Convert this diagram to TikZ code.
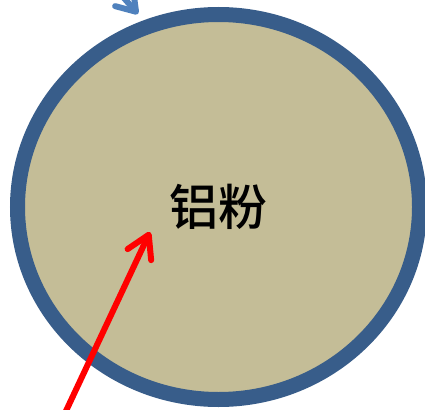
\documentclass[tikz,border=0pt]{standalone}
\usepackage{fontspec}
\newfontfamily\cjk{Noto Sans CJK SC Medium}
\usetikzlibrary{shapes.geometric,arrows.meta}
\definecolor{rim}{HTML}{385D8A}
\definecolor{tan}{HTML}{C4BD97}
\definecolor{lightblue}{HTML}{4F81BD}
\tikzset{
  particle/.style={ellipse, draw=rim, fill=tan, line width=15pt, minimum width=402pt, minimum height=385pt, inner sep=0pt, font=\cjk\fontsize{49}{49}\selectfont},
  redarrow/.style={draw=red, line width=6pt, line cap=round, -{Straight Barb[round,length=22pt,width=26pt]}},
  bluearrow/.style={draw=lightblue, line width=6pt, line cap=round, -{Straight Barb[round,length=18pt,width=24pt]}}
}
\begin{document}
\begin{tikzpicture}[x=1pt,y=-1pt]
\useasboundingbox (0,0) rectangle (425,409);
\node[particle] (p) at (218.5,207) {铝粉};
\coordinate (rs) at (58,428);
\coordinate (rt) at (150,232);
\draw[redarrow] (rs) -- (rt);
\coordinate (bs) at (95,-35);
\coordinate (bt) at (138,14);
\draw[bluearrow] (bs) -- (bt);
\end{tikzpicture}
\end{document}
